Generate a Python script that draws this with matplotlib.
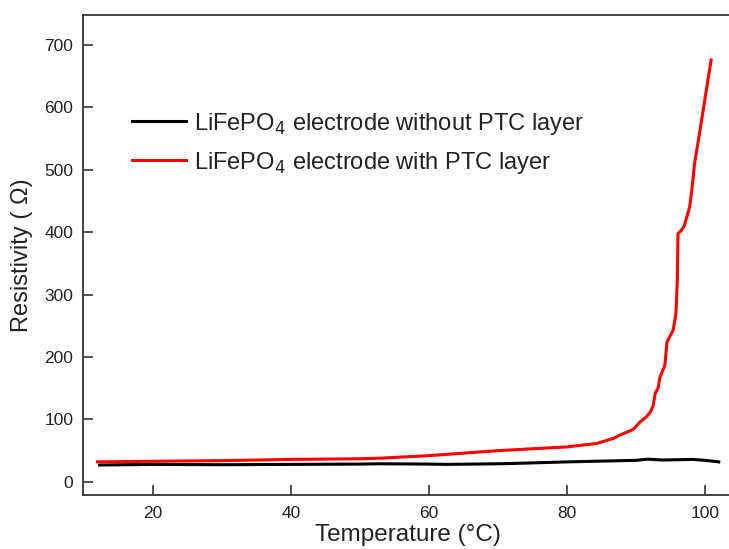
import matplotlib
matplotlib.use('Agg')
import matplotlib.pyplot as plt

# temperature (C) and resistivity (ohm)
temp_with = [12, 20, 30, 40, 50, 53, 60, 65, 70, 75, 80, 84.3, 86.7, 87.7,
             89.4, 89.8, 90.5, 91.5, 92.1, 92.5, 92.8, 93.2, 93.5, 94.2, 94.5,
             95.4, 95.8, 96.0, 96.1, 96.6, 97.0, 97.8, 98.1, 98.5, 99.3, 100.9]
res_with = [32, 33, 34, 36, 37, 38, 42, 46, 50, 53, 56, 61.5, 69.5, 75,
            83, 86, 95, 104, 112, 122, 142, 150, 168, 187, 224,
            243, 270, 323, 398, 403, 410, 441, 467, 510, 564, 676]

temp_without = [12.3, 20, 30, 40, 50, 53, 60, 62.6, 70, 72.2, 80, 86.7, 90,
                91.8, 93, 94, 96, 98.3, 100, 102]
res_without = [27, 28, 27.5, 28, 28.5, 29, 28.5, 28, 29, 29.5, 32, 33.7, 34.5,
               36.4, 35.5, 35, 35.5, 36, 34.5, 32]

plt.rcParams['font.family'] = ['Liberation Sans', 'DejaVu Sans']
txt = '#222222'

fig = plt.figure(figsize=(7.29, 5.49), dpi=100)
ax = fig.add_axes([0.1139, 0.0984, 0.89, 0.8743])

ax.plot(temp_without, res_without, color='black', lw=2.2,
        label=r'LiFePO$_4$ electrode without PTC layer')
ax.plot(temp_with, res_with, color='#ff0000', lw=2.2,
        label=r'LiFePO$_4$ electrode with PTC layer')

ax.set_xlim(9.9, 103.9)
ax.set_ylim(-21, 748)
ax.set_xticks([20, 40, 60, 80, 100])
ax.set_yticks([0, 100, 200, 300, 400, 500, 600, 700])
ax.tick_params(direction='in', length=7.5, width=1.2, labelsize=12.5,
               colors='#333333', labelcolor=txt, top=False, right=False)
ax.tick_params(axis='y', pad=7)
ax.tick_params(axis='x', pad=8)
for s in ax.spines.values():
    s.set_linewidth(1.3)
    s.set_color('#333333')

ax.set_xlabel('Temperature (\u00b0C)', fontsize=17.5, color=txt, labelpad=2)
ax.set_ylabel('Resistivity ( \u03a9)', fontsize=17, color=txt, labelpad=8)

ax.legend(loc='upper left', bbox_to_anchor=(0.043, 0.845), frameon=False,
          fontsize=17, handlelength=2.3, handletextpad=0.3, labelspacing=0.55,
          labelcolor=txt)

fig.savefig('out.png', dpi=100)
